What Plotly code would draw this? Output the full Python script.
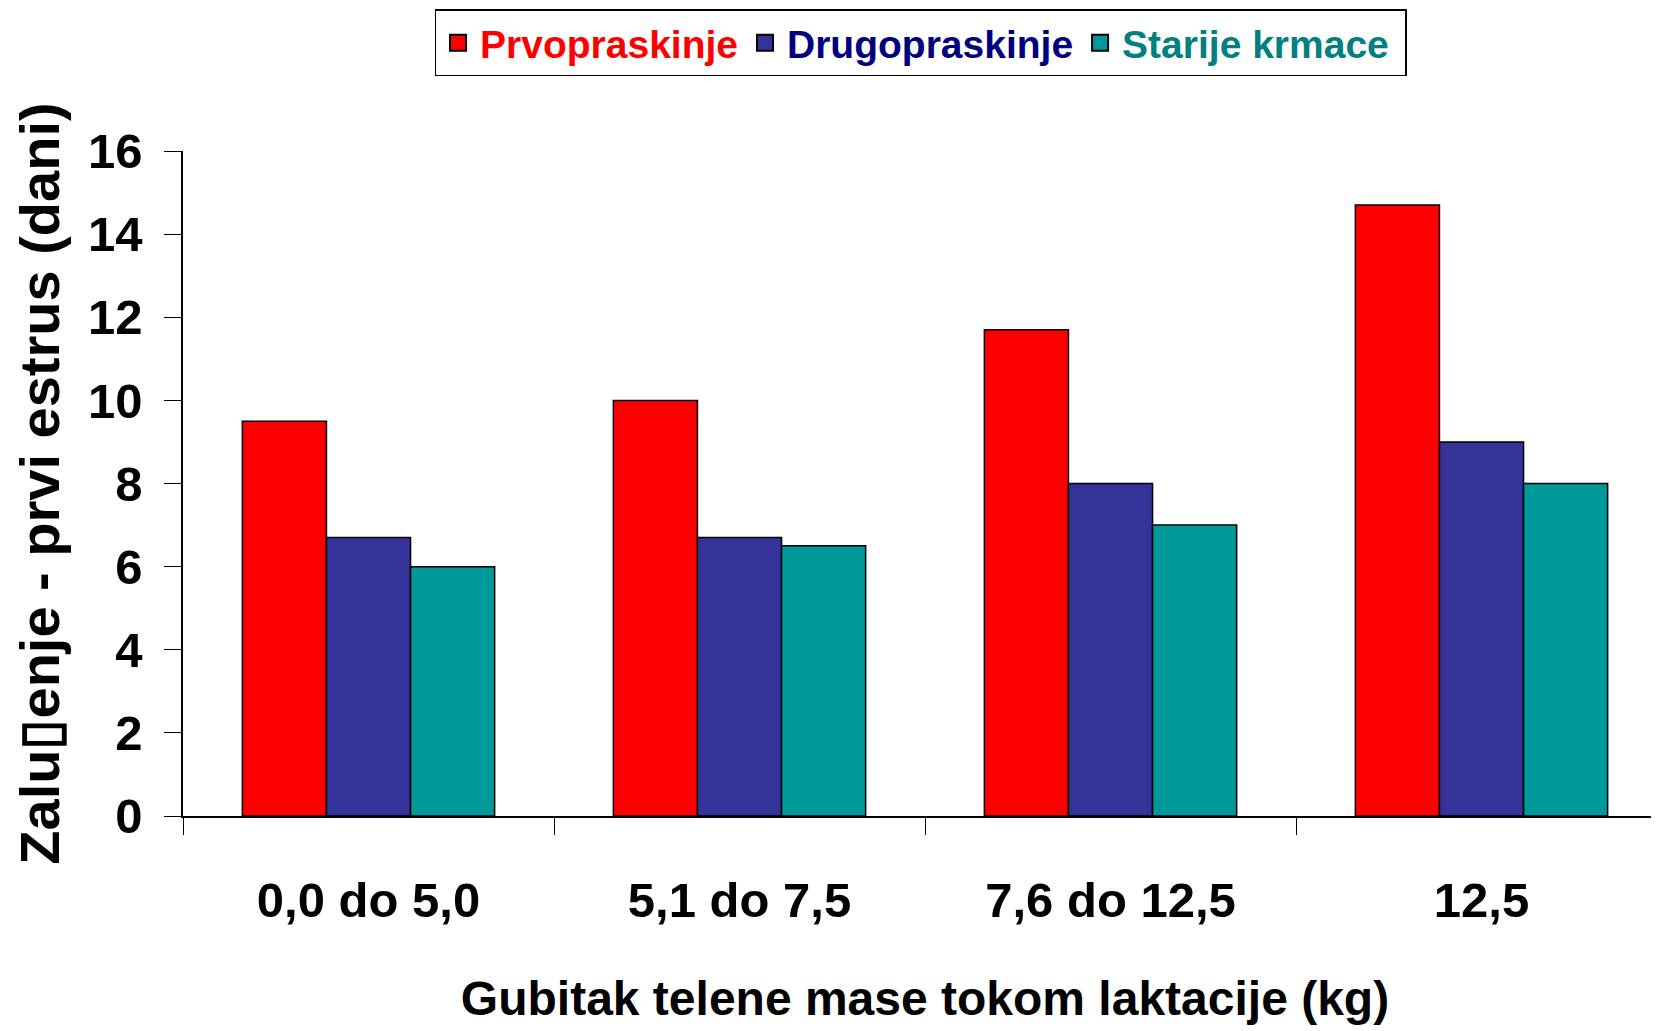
import plotly.graph_objects as go

categories = ["0,0 do 5,0", "5,1 do 7,5", "7,6 do 12,5", "12,5"]
prvopraskinje = [9.5, 10.0, 11.7, 14.7]
drugopraskinje = [6.7, 6.7, 8.0, 9.0]
starije_krmace = [6.0, 6.5, 7.0, 8.0]
y_ticks = [0, 2, 4, 6, 8, 10, 12, 14, 16]

FONT = "Liberation Sans, Arial, sans-serif"

series = [
    ("Prvopraskinje", prvopraskinje, "#FF0000", "#FF0000", ""),
    ("Drugopraskinje", drugopraskinje, "#333399", "#000080", ""),
    ("Starije krmace", starije_krmace, "#009999", "#008080", "&nbsp;"),
]

fig = go.Figure()
for name, vals, color, tcolor, pad in series:
    fig.add_trace(go.Bar(
        x=categories, y=vals, name=name, showlegend=False,
        marker=dict(color=color, line=dict(color="black", width=1.5)),
    ))
# legend entries (square swatches)
for name, vals, color, tcolor, pad in series:
    fig.add_trace(go.Scatter(
        x=[None], y=[None], mode="markers",
        name=f'<span style="color:{tcolor}">{name}</span>{pad}',
        marker=dict(symbol="square", size=25, color=color,
                    line=dict(color="black", width=2)),
    ))

fig.update_layout(
    width=1659, height=1031,
    paper_bgcolor="white", plot_bgcolor="white",
    barmode="group", bargap=0.32, bargroupgap=0,
    margin=dict(l=175, r=0, t=143, b=223, autoexpand=False),
    font=dict(family=FONT, color="black", weight="bold"),
    showlegend=True,
    legend=dict(
        orientation="h", x=0.497, xanchor="center", y=1.213, yanchor="top",
        bordercolor="black", borderwidth=1.5, bgcolor="white",
        font=dict(family=FONT, size=39, weight="bold"),
        itemwidth=34, tracegroupgap=0,
    ),
    xaxis=dict(
        showline=True, linecolor="black", linewidth=1.5,
        ticks="outside", tickson="boundaries", ticklen=17, tickcolor="black",
        tickfont=dict(family=FONT, size=49, weight="bold"),
        ticklabelstandoff=40,
        title=dict(text="Gubitak telene mase tokom laktacije (kg)",
                   font=dict(family=FONT, size=48, weight="bold"), standoff=56),
        showgrid=False, zeroline=False,
    ),
    yaxis=dict(
        range=[0, 16], tickvals=y_ticks,
        showline=True, linecolor="black", linewidth=1.5,
        ticks="outside", ticklen=17, tickcolor="black",
        tickfont=dict(family=FONT, size=49, weight="bold"),
        ticklabelstandoff=12,
        title=dict(text="Zalu\u25AFenje - prvi estrus (dani)",
                   font=dict(family=FONT, size=56, weight="bold"), standoff=22),
        showgrid=False, zeroline=False,
    ),
)

fig.write_html("out.html")
